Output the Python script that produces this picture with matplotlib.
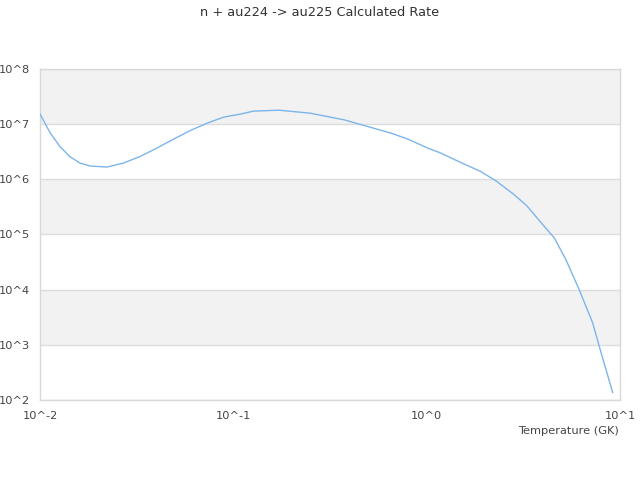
import numpy as np
import matplotlib.pyplot as plt

# temperature (GK) and rate
temps = [0.01, 0.0113, 0.0127, 0.0143, 0.0161, 0.0182, 0.0222, 0.027, 0.033,
         0.0402, 0.0491, 0.0599, 0.0731, 0.0891, 0.1087, 0.127, 0.172, 0.25,
         0.373, 0.493, 0.651, 0.795, 1.01, 1.18, 1.5, 1.9, 2.28, 2.83, 3.3,
         3.9, 4.57, 5.25, 6.15, 7.22, 7.98, 9.16]
rates = [1.53e7, 6.9e6, 3.9e6, 2.56e6, 1.97e6, 1.74e6, 1.67e6, 1.97e6, 2.6e6,
         3.68e6, 5.36e6, 7.66e6, 1.04e7, 1.34e7, 1.52e7, 1.72e7, 1.79e7, 1.58e7,
         1.2e7, 9.1e6, 6.9e6, 5.4e6, 3.7e6, 3.0e6, 2.02e6, 1.39e6, 9.4e5, 5.3e5,
         3.3e5, 1.65e5, 8.7e4, 3.5e4, 1.0e4, 2.5e3, 723, 137]

x_exps = [-2, -1, 0, 1]
y_exps = [2, 3, 4, 5, 6, 7, 8]

fig = plt.figure(figsize=(6.4, 4.8), dpi=100)
ax = fig.add_axes([0.0625, 0.1667, 0.90625, 0.6896])

# alternating bands
for i in range(len(y_exps) - 1):
    lo, hi = y_exps[i], y_exps[i + 1]
    if (hi - y_exps[-1]) % 2 == 0:
        ax.axhspan(10.0 ** lo, 10.0 ** hi, facecolor='#f2f2f2', zorder=0, lw=0)

ax.plot(temps, rates, color='#7cb5ec', lw=1, zorder=3)
ax.set_xscale('log')
ax.set_yscale('log')
ax.set_xlim(10.0 ** x_exps[0], 10.0 ** x_exps[-1])
ax.set_ylim(10.0 ** y_exps[0], 10.0 ** y_exps[-1])

ax.set_xticks([10.0 ** e for e in x_exps])
ax.set_xticklabels([f'10^{e}' for e in x_exps])
ax.set_yticks([10.0 ** e for e in y_exps])
ax.set_yticklabels([f'10^{e}' for e in y_exps])
ax.minorticks_off()
ax.tick_params(length=0, labelsize=8.2, colors='#444444')
ax.tick_params(axis='x', pad=8)
ax.tick_params(axis='y', pad=7)
ax.grid(axis='y', color='#dddddd', lw=1)
for s in ax.spines.values():
    s.set_color('#d8d8d8')
    s.set_linewidth(1)

fig.text(0.5, 0.975, 'n + au224 -> au225 Calculated Rate', ha='center', va='center',
         fontsize=9.3, color='#333333')
fig.text(0.967, 0.102, 'Temperature (GK)', ha='right', va='center',
         fontsize=8.2, color='#444444')

fig.savefig('out.png')
